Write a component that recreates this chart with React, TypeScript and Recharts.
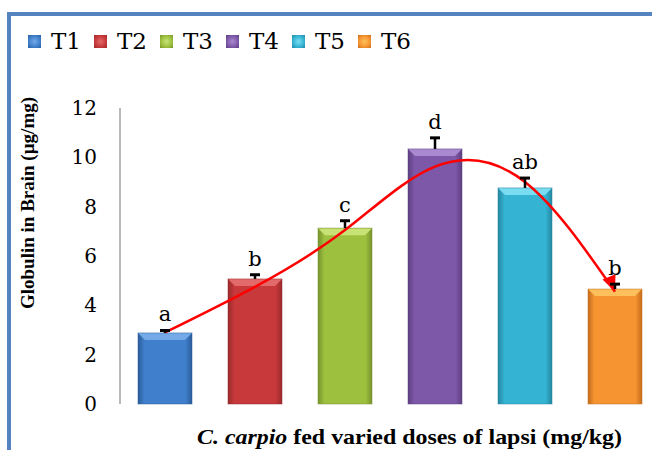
import React from 'react';
import { ComposedChart, Bar, Line, XAxis, YAxis, LabelList, Cell } from 'recharts';

// treatments and measured globulin (µg/mg) with SE and significance letters
const groups = ['T1', 'T2', 'T3', 'T4', 'T5', 'T6'];
const globulin = [2.88, 5.07, 7.13, 10.34, 8.76, 4.66];
const sem = [0.1, 0.17, 0.3, 0.45, 0.4, 0.2];
const letters = ['a', 'b', 'c', 'd', 'ab', 'b'];
// hand-drawn trend curve through the bars
const trend = [2.9, 4.75, 7.05, 9.62, 9.0, 4.55];
const yTicks = [0, 2, 4, 6, 8, 10, 12];

const palette = [
  { main: '#3f7fcb', dark: '#2b5c9a', light: '#74aae8' },
  { main: '#c8393b', dark: '#982a2c', light: '#e36a6a' },
  { main: '#9dc03f', dark: '#77922c', light: '#c8e276' },
  { main: '#7e58a8', dark: '#5d3f80', light: '#a98ad0' },
  { main: '#35b3d3', dark: '#23869f', light: '#7adcf1' },
  { main: '#f59431', dark: '#c46d1c', light: '#fdc05c' },
];

const data = groups.map((g, i) => ({ group: g, value: globulin[i], trend: trend[i] }));

const serif = '"DejaVu Serif", serif';
const times = '"Liberation Serif", "Times New Roman", serif';

const BevelBar = (props: any) => {
  const { x, y, width, height, index } = props;
  const c = palette[index];
  const b = Math.min(7, height / 2);
  return (
    <g>
      <rect x={x} y={y} width={width} height={height} fill={`url(#barGrad${index})`} />
      <polygon
        points={`${x},${y} ${x + width},${y} ${x + width - b},${y + b} ${x + b},${y + b}`}
        fill={c.light}
      />
      <rect x={x} y={y} width={width} height={height} fill="none" stroke={c.dark} strokeOpacity={0.5} />
    </g>
  );
};

// whisker (upper SE) plus significance letter above each bar
const Whisker = (props: any) => {
  const { x, y, width, height, index } = props;
  const perUnit = height / globulin[index];
  const top = y - sem[index] * perUnit;
  const cx = x + width / 2;
  return (
    <g>
      <line x1={cx} y1={y} x2={cx} y2={top} stroke="#000" strokeWidth={2.5} />
      <line x1={cx - 5} y1={top} x2={cx + 5} y2={top} stroke="#000" strokeWidth={3} />
      <text x={cx} y={top - 9} textAnchor="middle" fontFamily={serif} fontSize={21} fill="#000">
        {letters[index]}
      </text>
    </g>
  );
};

const ArrowDot = (props: any) => {
  const { cx, cy, index } = props;
  if (index !== trend.length - 1) return <g key={`d${index}`} />;
  const ang = (68 * Math.PI) / 180;
  const dx = Math.cos(ang);
  const dy = Math.sin(ang);
  const len = 16;
  const half = 7;
  const bx = cx - dx * len;
  const by = cy - dy * len;
  const pts = `${cx},${cy} ${bx - dy * half},${by + dx * half} ${bx + dy * half},${by - dx * half}`;
  return <polygon key={`d${index}`} points={pts} fill="#ff0000" />;
};

const Legend = () => (
  <div style={{ position: 'absolute', left: 28, top: 27, display: 'flex', alignItems: 'center' }}>
    {groups.map((g, i) => (
      <div key={g} style={{ display: 'flex', alignItems: 'center', marginRight: 13 }}>
        <div
          style={{
            width: 13,
            height: 13,
            background: `radial-gradient(circle, ${palette[i].light} 0%, ${palette[i].main} 60%, ${palette[i].dark} 100%)`,
            marginRight: 10,
          }}
        />
        <span style={{ fontFamily: serif, fontSize: 23, color: '#000', lineHeight: '28px' }}>{g}</span>
      </div>
    ))}
  </div>
);

export default function App() {
  return (
    <div style={{ position: 'absolute', left: 0, top: 0, width: 652, height: 450, overflow: 'hidden', background: '#fff' }}>
      <div
        style={{
          position: 'absolute',
          left: 7,
          top: 12,
          width: 700,
          height: 500,
          border: '4px solid #5483c0',
          boxSizing: 'border-box',
        }}
      />
      <Legend />
      <div style={{ position: 'absolute', left: 0, top: 0 }}>
        <ComposedChart width={660} height={450} data={data} margin={{ top: 108, right: 0, bottom: 0, left: 0 }} barCategoryGap="20%">
          <defs>
            {palette.map((c, i) => (
              <linearGradient key={i} id={`barGrad${i}`} x1="0" y1="0" x2="1" y2="0">
                <stop offset="0%" stopColor={c.dark} />
                <stop offset="12%" stopColor={c.main} />
                <stop offset="50%" stopColor={c.main} />
                <stop offset="88%" stopColor={c.main} />
                <stop offset="100%" stopColor={c.dark} />
              </linearGradient>
            ))}
          </defs>
          <XAxis
            dataKey="group"
            tick={false}
            tickLine={false}
            axisLine={false}
            height={46}
            label={{
              content: () => (
                <text
                  x={197}
                  y={444}
                  textLength={425}
                  lengthAdjust="spacingAndGlyphs"
                  fontFamily={times}
                  fontWeight="bold"
                  fontSize={21}
                  fill="#000"
                >
                  <tspan fontStyle="italic">C. carpio</tspan> fed varied doses of lapsi (mg/kg)
                </text>
              ),
            }}
          />
          <YAxis
            domain={[0, 12]}
            ticks={yTicks}
            width={120}
            tickLine={false}
            tickSize={6}
            tickMargin={17}
            axisLine={{ stroke: '#8c8c8c', strokeWidth: 1.2 }}
            tick={{ fontFamily: serif, fontSize: 20, fill: '#000' }}
            label={{
              content: () => (
                <text
                  x={34}
                  y={203}
                  transform="rotate(-90 34 203)"
                  textAnchor="middle"
                  fontFamily={times}
                  fontWeight="bold"
                  fontSize={19}
                  fill="#000"
                >
                  Globulin in Brain (µg/mg)
                </text>
              ),
            }}
          />
          <Bar dataKey="value" shape={<BevelBar />} isAnimationActive={false}>
            {data.map((d, i) => (
              <Cell key={d.group} fill={palette[i].main} />
            ))}
            <LabelList dataKey="value" content={<Whisker />} />
          </Bar>
          <Line
            type="natural"
            dataKey="trend"
            stroke="#ff0000"
            strokeWidth={2.5}
            dot={ArrowDot}
            activeDot={false}
            isAnimationActive={false}
          />
        </ComposedChart>
      </div>
    </div>
  );
}
